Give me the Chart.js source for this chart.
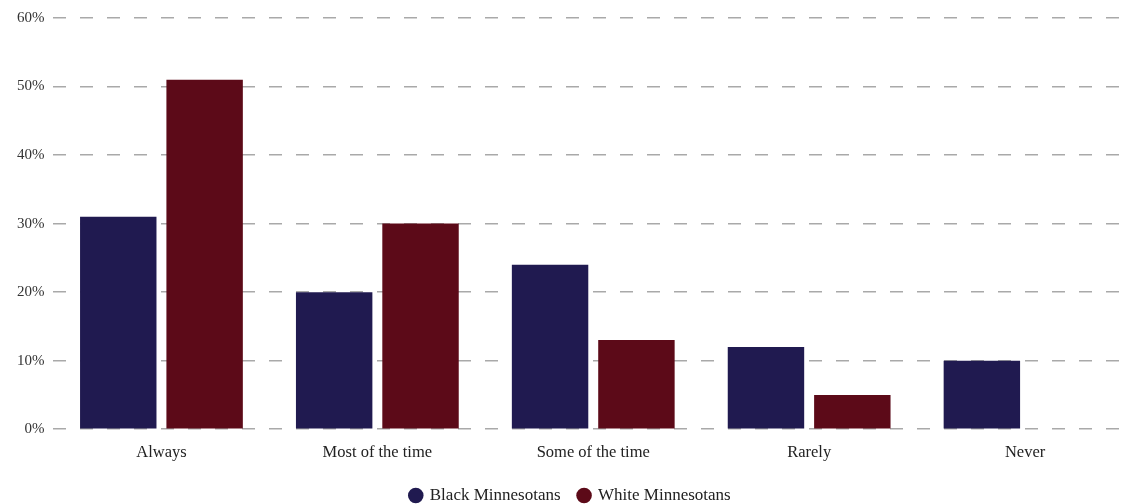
<!DOCTYPE html>
<html>
<head>
<meta charset="utf-8">
<script src="https://cdn.jsdelivr.net/npm/chart.js@4/dist/chart.umd.min.js"></script>
<style>
html,body{margin:0;padding:0;background:#fff;}
#wrap{width:1133px;height:504px;position:relative;}
</style>
</head>
<body>
<div id="wrap"><canvas id="c" width="1133" height="504"></canvas></div>
<script>
const categories = ["Always", "Most of the time", "Some of the time", "Rarely", "Never"];
const blackMinnesotans = [31, 20, 24, 12, 10];
const whiteMinnesotans = [51, 30, 13, 5, 0];
const seriesNames = ["Black Minnesotans", "White Minnesotans"];
const yTicks = [0, 10, 20, 30, 40, 50, 60];

const serif = "'Liberation Serif', 'DejaVu Serif', serif";
new Chart(document.getElementById('c'), {
  type: 'bar',
  data: {
    labels: categories,
    datasets: [
      { label: seriesNames[0], data: blackMinnesotans, backgroundColor: '#201a50', categoryPercentage: 0.8, barPercentage: 0.885 },
      { label: seriesNames[1], data: whiteMinnesotans, backgroundColor: '#5c0a18', categoryPercentage: 0.8, barPercentage: 0.885 }
    ]
  },
  options: {
    responsive: false,
    animation: false,
    layout: { padding: { top: 13, left: 8, right: 0, bottom: -10 } },
    plugins: {
      tooltip: { enabled: false },
      legend: {
        position: 'bottom',
        labels: {
          usePointStyle: true,
          pointStyle: 'circle',
          boxWidth: 11, boxHeight: 11,
          padding: 18,
          color: '#222',
          font: { family: serif, size: 17 }
        }
      }
    },
    scales: {
      x: {
        grid: { display: false },
        border: { display: false },
        ticks: { color: '#222', font: { family: serif, size: 16.5 }, padding: 6 }
      },
      y: {
        min: 0, max: 60,
        afterBuildTicks: (axis) => { axis.ticks = yTicks.map(v => ({ value: v })); },
        grid: { color: '#a9a9a9', lineWidth: 1.5, drawTicks: false },
        border: { display: false, dash: [13, 14] },
        ticks: { color: '#333', font: { family: serif, size: 15 }, padding: 9, callback: v => v + '%' }
      }
    }
  }
});
</script>
</body>
</html>
